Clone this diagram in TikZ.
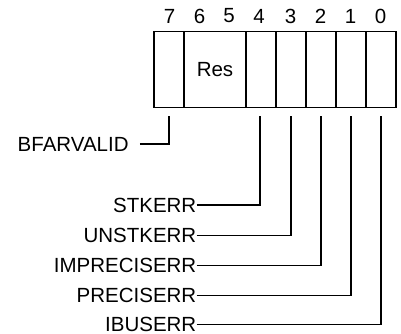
\documentclass[tikz,border=0pt]{standalone}
\usepackage{fontspec}
\setmainfont{Liberation Sans}
\begin{document}
\begin{tikzpicture}[x=1pt,y=-1pt,
  cell/.style={draw, line width=1.8pt, minimum height=76pt, minimum width=30pt, inner sep=0pt, font=\fontsize{20.5}{22}\selectfont},
  bitnum/.style={inner sep=0pt, font=\fontsize{20.5}{22}\selectfont},
  lbl/.style={inner sep=0pt, anchor=east, font=\fontsize{20.5}{22}\selectfont},
  conn/.style={line width=1.2pt}]
\useasboundingbox (0,0) rectangle (401,334);
% register cells
\node[cell] (c7) at (169,69.6) {};
\node[cell, minimum width=62pt] (cres) at (215,69.6) {Res};
\node[cell] (c4) at (261,69.6) {};
\node[cell] (c3) at (291,69.6) {};
\node[cell] (c2) at (321,69.6) {};
\node[cell] (c1) at (351,69.6) {};
\node[cell] (c0) at (381,69.6) {};
% bit numbers
\node[bitnum] (n7) at (169.5,16) {7};
\node[bitnum] (n6) at (199.5,16) {6};
\node[bitnum] (n5) at (229,16) {5};
\node[bitnum] (n4) at (259,16) {4};
\node[bitnum] (n3) at (290.5,16) {3};
\node[bitnum] (n2) at (320.5,16) {2};
\node[bitnum] (n1) at (350.5,16) {1};
\node[bitnum] (n0) at (380.5,16) {0};
% connector ends
\coordinate (e7) at ([yshift=-7.5pt]c7.south);
\coordinate (e4) at ([yshift=-7.5pt,xshift=-1pt]c4.south);
\coordinate (e3) at ([yshift=-7.5pt]c3.south);
\coordinate (e2) at ([yshift=-7.5pt]c2.south);
\coordinate (e1) at ([yshift=-7.5pt]c1.south);
\coordinate (e0) at ([yshift=-7.5pt]c0.south);
% labels
\node[lbl] (lbf) at (128.8,144) {BFARVALID};
\node[lbl] (lstk) at (196.5,205) {STKERR};
\node[lbl] (lunstk) at (196.5,235.7) {UNSTKERR};
\node[lbl] (limp) at (196.5,265.7) {IMPRECISERR};
\node[lbl] (lpre) at (196.5,295.7) {PRECISERR};
\node[lbl] (libus) at (196.5,324.5) {IBUSERR};
% connectors
\draw[conn] ([xshift=11pt]lbf.east) -| (e7);
\draw[conn] (lstk.east) -| (e4);
\draw[conn] (lunstk.east) -| (e3);
\draw[conn] (limp.east) -| (e2);
\draw[conn] (lpre.east) -| (e1);
\draw[conn] (libus.east) -| (e0);
\end{tikzpicture}
\end{document}
